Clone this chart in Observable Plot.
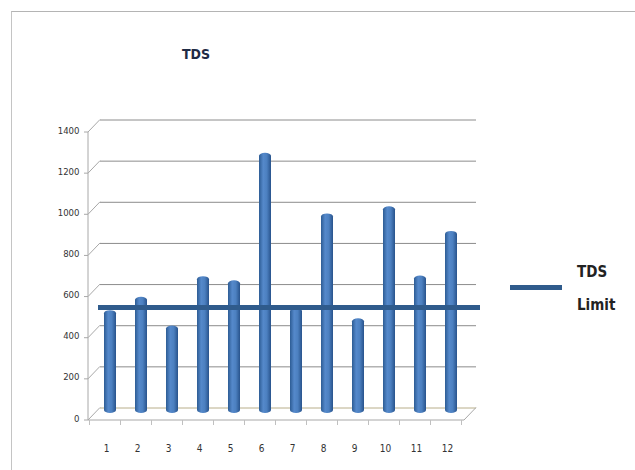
<!DOCTYPE html>
<html>
<head>
<meta charset="utf-8">
<script src="https://cdn.jsdelivr.net/npm/d3@7"></script>
<script src="https://cdn.jsdelivr.net/npm/@observablehq/plot@0.6"></script>
<style>
  html, body { margin: 0; padding: 0; background: #fff; }
  #wrap { position: relative; width: 635px; height: 470px; overflow: hidden; font-family: "Liberation Sans Narrow", "DejaVu Sans", sans-serif; font-stretch: condensed; }
  #border { position: absolute; left: 11px; top: 11px; right: -2px; bottom: -2px; border-top: 1.5px solid #b4b4b4; border-left: 1.5px solid #c4c4c4; pointer-events: none; }
  #title { position: absolute; left: 168px; width: 56px; top: 46px; text-align: center; font-weight: bold; font-size: 14px; color: #1f2b45; }
  #legend-line { position: absolute; left: 510px; top: 285px; width: 52px; height: 5px; background: #2f5b8c; }
  .leg { position: absolute; left: 577px; font-size: 15px; font-weight: bold; color: #222; }
</style>
</head>
<body>
<div id="wrap">
  <div id="chart"></div>
  <div id="border"></div>
  <div id="title">TDS</div>
  <div id="legend-line"></div>
  <div class="leg" style="top:263px">TDS</div>
  <div class="leg" style="top:296px">Limit</div>
</div>
<script>
const categories = ["1","2","3","4","5","6","7","8","9","10","11","12"];
const tdsValues = [500, 565, 425, 665, 645, 1265, 510, 970, 460, 1005, 668, 885];
const tdsLimit = 515;
const yTicks = [0, 200, 400, 600, 800, 1000, 1200, 1400];

const data = categories.map((c, i) => ({cat: c, value: tdsValues[i]}));

const plot = Plot.plot({
  width: 635,
  height: 470,
  marginLeft: 93,
  marginRight: 166,
  marginTop: 125,
  marginBottom: 57,
  x: {type: "band", domain: categories, paddingInner: 0.6, paddingOuter: 0.31, axis: null},
  y: {domain: [0, 1400], axis: null},
  style: {background: "transparent", fontFamily: "'Liberation Sans Narrow', 'DejaVu Sans', sans-serif", fontStretch: "condensed"},
  marks: [
    // back wall gridlines
    Plot.ruleY(yTicks, {y: d => d, dy: -5.5, insetLeft: 7, insetRight: -7, stroke: d => d === 0 ? "#b8ae8a" : "#8c8c8c", strokeWidth: 1}),
    // cylinders
    Plot.barY(data, {x: "cat", y: "value", fill: "url(#cyl)", rx: 6, ry: 3}),
    // limit line
    Plot.ruleY([tdsLimit], {insetLeft: 5, insetRight: -11, stroke: "#2f5b8c", strokeWidth: 5}),
    // y tick labels (front)
    Plot.text(yTicks, {y: d => d, text: d => String(d), frameAnchor: "left", dx: -14, dy: 5, textAnchor: "end", fontSize: 9.5, fill: "#333"}),
    // x labels
    Plot.text(categories, {x: d => d, y: () => 0, text: d => d, dx: -4, dy: 35, fontSize: 10, fill: "#333"})
  ]
});

document.getElementById("chart").appendChild(plot);

// gradient for cylinder look
const svg = d3.select(plot);
const defs = svg.insert("defs", ":first-child");
const g = defs.append("linearGradient").attr("id", "cyl").attr("x1", "0").attr("x2", "1").attr("y1", "0").attr("y2", "0");
g.append("stop").attr("offset", "0%").attr("stop-color", "#2d5c94");
g.append("stop").attr("offset", "35%").attr("stop-color", "#5589cb");
g.append("stop").attr("offset", "65%").attr("stop-color", "#4c80c0");
g.append("stop").attr("offset", "100%").attr("stop-color", "#28538c");

// 3D wall decorations drawn from the scales
const xs = plot.scale("x"), ys = plot.scale("y");
const left = xs.range[0], right = xs.range[1];
const frontX = left - 5, backX = left + 7;
const deco = svg.append("g").attr("stroke", "#a8a8a8").attr("stroke-width", 1).attr("fill", "none");
deco.append("line").attr("x1", frontX).attr("x2", frontX).attr("y1", ys.apply(1400) + 7).attr("y2", ys.apply(0) + 7);
for (const v of yTicks) {
  const yf = ys.apply(v) + 7, yb = ys.apply(v) - 5.5;
  deco.append("line").attr("x1", frontX).attr("y1", yf).attr("x2", backX).attr("y2", yb);
  deco.append("line").attr("x1", frontX - 4).attr("y1", yf).attr("x2", frontX).attr("y2", yf);
}
const yFloorF = ys.apply(0) + 7, yFloorB = ys.apply(0) - 5.5;
deco.append("line").attr("x1", frontX).attr("x2", right - 5).attr("y1", yFloorF).attr("y2", yFloorF);
deco.append("line").attr("x1", right - 5).attr("y1", yFloorF).attr("x2", right + 7).attr("y2", yFloorB);
const step = xs.step, x0 = xs.apply(categories[0]) - step * 0.5 + xs.bandwidth / 2;
for (let k = 0; k <= categories.length; k++) {
  const xx = x0 + step * k - 5;
  deco.append("line").attr("x1", xx).attr("x2", xx).attr("y1", yFloorF).attr("y2", yFloorF + 5).attr("stroke", "#c0c0c0");
}
</script>
</body>
</html>
